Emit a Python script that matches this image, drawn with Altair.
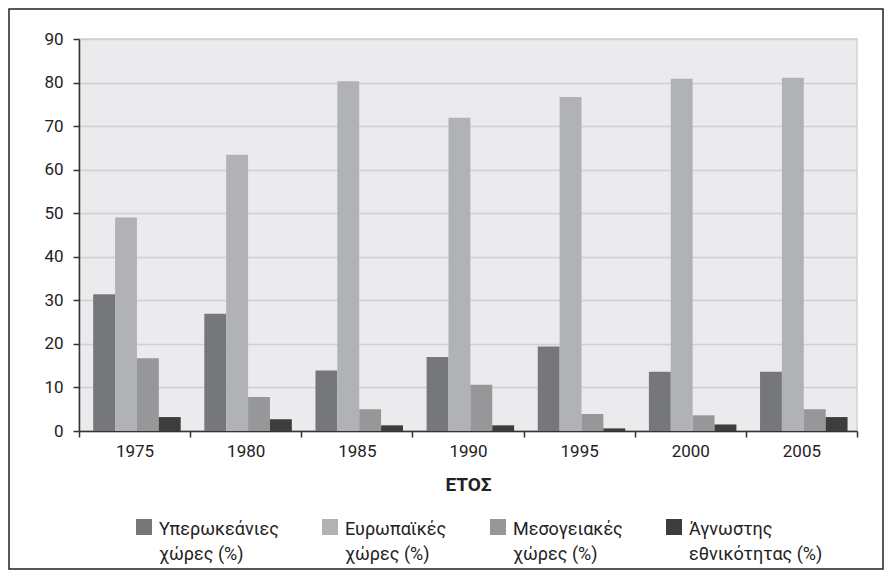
import altair as alt
import pandas as pd

years = ["1975", "1980", "1985", "1990", "1995", "2000", "2005"]
series_names = [
    "Υπερωκεάνιες\nχώρες (%)",
    "Ευρωπαϊκές\nχώρες (%)",
    "Μεσογειακές\nχώρες (%)",
    "Άγνωστης\nεθνικότητας (%)",
]
overseas = [31.4, 26.9, 13.9, 17.0, 19.4, 13.6, 13.6]
european = [49.0, 63.4, 80.3, 71.9, 76.7, 80.9, 81.1]
mediterranean = [16.7, 7.8, 5.0, 10.6, 3.9, 3.6, 5.0]
unknown = [3.2, 2.7, 1.3, 1.3, 0.6, 1.5, 3.2]
y_ticks = [0, 10, 20, 30, 40, 50, 60, 70, 80, 90]
colors = ["#76777b", "#b1b2b5", "#969799", "#3d3d3d"]

rows = []
for name, vals in zip(series_names, [overseas, european, mediterranean, unknown]):
    for yr, v in zip(years, vals):
        rows.append({"year": yr, "series": name, "value": v})
df = pd.DataFrame(rows)

FONT = "Roboto, Liberation Sans, sans-serif"
W, H = 778, 392
PL, PT, PR, PB = 71, 31, 27, 139

bars = alt.Chart(df).mark_bar().encode(
    x=alt.X(
        "year:N",
        sort=years,
        scale=alt.Scale(paddingInner=0, paddingOuter=0),
        axis=alt.Axis(
            title="ΕΤΟΣ",
            labelAngle=0,
            tickBand="extent",
            tickSize=6,
            labelPadding=6,
            labelFontSize=17,
            titleFontSize=19,
            titleFontWeight="bold",
            titleY=59,
            titleBaseline="alphabetic",
            grid=False,
        ),
    ),
    xOffset=alt.XOffset(
        "series:N",
        sort=series_names,
        scale=alt.Scale(paddingInner=0, paddingOuter=0.54, align=0.6),
    ),
    y=alt.Y(
        "value:Q",
        scale=alt.Scale(domain=[0, 90], nice=False),
        axis=alt.Axis(
            title=None,
            values=y_ticks,
            tickSize=6,
            labelPadding=10,
            labelFontSize=17,
            grid=True,
            gridColor="#d0d0d2",
            gridWidth=1.5,
        ),
    ),
    color=alt.Color(
        "series:N",
        sort=series_names,
        scale=alt.Scale(domain=series_names, range=colors),
        legend=alt.Legend(
            title=None,
            orient="none",
            legendX=56,
            legendY=487,
            direction="horizontal",
            columns=4,
            columnPadding=42,
            symbolType="M-1,-2H1V0H-1Z",
            symbolSize=256,
            symbolStrokeWidth=0,
            symbolOpacity=1,
            labelOffset=6,
            labelFontSize=18,
            labelFont=FONT,
            labelColor="#222222",
            labelLimit=400,
            labelBaseline="alphabetic",
            labelExpr="split(datum.label, '\\n')",
            padding=0,
        ),
    ),
)

frame = alt.Chart(alt.Data(values=[{}])).mark_rect(
    fill="transparent", stroke="#222222", strokeWidth=1.5, clip=False
).encode(
    x=alt.value(-PL + 1),
    x2=alt.value(W + PR - 1),
    y=alt.value(-PT + 1),
    y2=alt.value(H + PB - 1),
)

chart = (
    alt.layer(bars, frame)
    .properties(
        width=W,
        height=H,
        padding={"left": PL, "top": PT, "right": PR, "bottom": PB},
        autosize=alt.AutoSizeParams(type="none"),
        background="white",
    )
    .configure(font=FONT, style={"guide-label": {"lineHeight": 25}})
    .configure_view(fill="#ebebed", stroke="#d2d2d4", strokeWidth=1.5)
    .configure_axis(
        domainColor="#333333",
        domainWidth=1.5,
        tickColor="#333333",
        tickWidth=1.5,
        labelColor="#222222",
        titleColor="#222222",
        labelFont=FONT,
        titleFont=FONT,
    )
)

chart.save("out.html", embed_options={"renderer": "svg", "actions": False})
